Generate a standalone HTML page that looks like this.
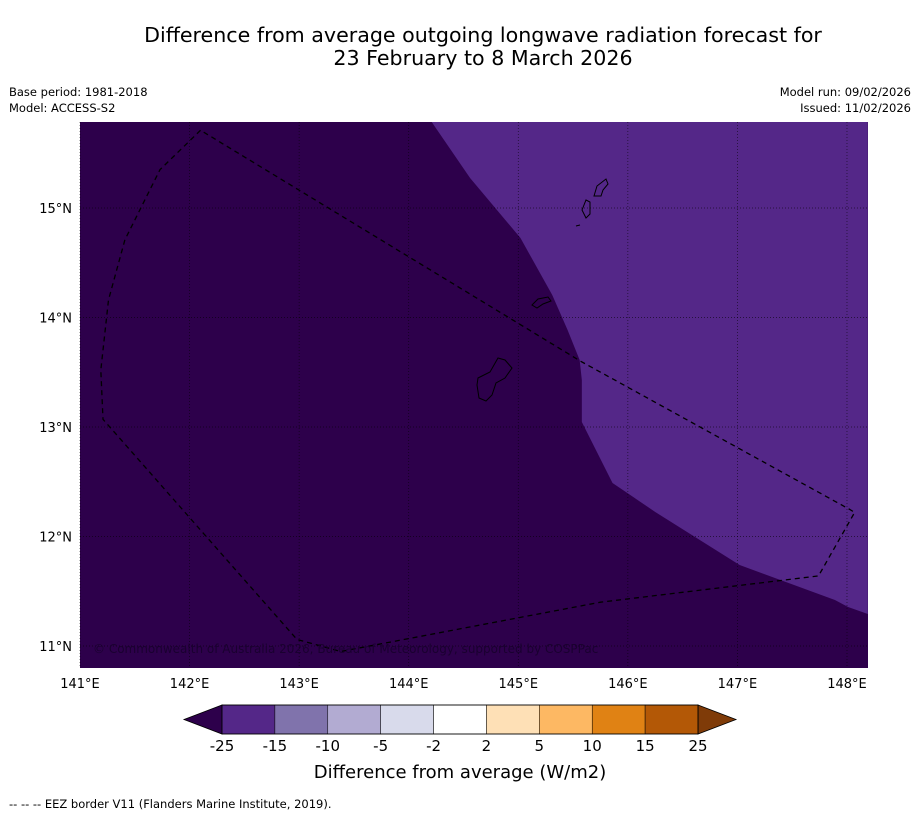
<!DOCTYPE html>
<html><head><meta charset="utf-8"><style>
body{margin:0;background:#fff;width:919px;height:816px;overflow:hidden;font-family:"Liberation Sans","DejaVu Sans",sans-serif}
</style></head><body>
<svg width="919" height="816" xmlns="http://www.w3.org/2000/svg" font-family="DejaVu Sans, Liberation Sans, sans-serif">
<text x="483" y="42" font-size="20.6" text-anchor="middle">Difference from average outgoing longwave radiation forecast for</text>
<text x="483" y="65" font-size="20.6" text-anchor="middle">23 February to 8 March 2026</text>
<text x="9" y="96" font-size="11.5">Base period: 1981-2018</text>
<text x="9" y="112" font-size="11.5">Model: ACCESS-S2</text>
<text x="911" y="96" font-size="11.5" text-anchor="end">Model run: 09/02/2026</text>
<text x="911" y="112" font-size="11.5" text-anchor="end">Issued: 11/02/2026</text>
<g id="map"></g>
<g id="axes"></g>
<g id="cbar"></g>
<text x="460" y="778" font-size="18" text-anchor="middle">Difference from average (W/m2)</text>
<text x="9" y="808" font-size="11.5">--  --  -- EEZ border V11 (Flanders Marine Institute, 2019).</text>
</svg>
<script>
const lonTicks=[141,142,143,144,145,146,147,148];
const latTicks=[11,12,13,14,15];
const regionLon=[144.21,144.56,145.02,145.31,145.45,145.56,145.58,145.58,145.86,146.25,147.02,147.89,148.01,148.19,148.19];
const regionLat=[15.785,15.274,14.726,14.205,13.886,13.612,13.429,13.046,12.489,12.224,11.74,11.42,11.356,11.292,15.785];
const eezLon=[142.10,141.73,141.41,141.26,141.19,141.21,142.98,143.38,145.75,147.74,148.07,148.02,145.57,142.10];
const eezLat=[15.71,15.35,14.71,14.16,13.52,13.07,11.06,10.95,11.40,11.64,12.22,12.25,13.60,15.71];
const cbLabels=["-25","-15","-10","-5","-2","2","5","10","15","25"];
const cbColors=["#542788","#8073ac","#b2abd2","#d8daeb","#ffffff","#fee0b6","#fdb863","#e08214","#b35806"];
const X0=80,X1=868,Y0=122,Y1=668;
const xs=l=>80+(l-141)*109.57, ys=l=>208-(l-15)*109.5;
const NS="http://www.w3.org/2000/svg";
function mk(t,a,p){const e=document.createElementNS(NS,t);for(const k in a)e.setAttribute(k,a[k]);p.appendChild(e);return e;}
const map=document.getElementById('map'),ax=document.getElementById('axes'),cb=document.getElementById('cbar');
let r=mk('rect',{x:X0,y:Y0,width:X1-X0,height:Y1-Y0,fill:'#2d004b'},map);


let pts=regionLon.map((l,i)=>xs(l)+','+ys(regionLat[i])).join(' ');
let pg=mk('polygon',{points:pts,fill:'#542788'},map);


lonTicks.forEach(l=>{const x=xs(l);
 let g=mk('line',{x1:x,x2:x,y1:Y0,y2:Y1,stroke:'#000','stroke-width':0.7,'stroke-dasharray':'1,2',opacity:0.7},map);
 
 
 let t=mk('text',{x:x,y:688,'font-size':13,'text-anchor':'middle'},ax);t.textContent=l+'°E';
 
 });
latTicks.forEach(l=>{const y=ys(l);
 let g=mk('line',{x1:X0,x2:X1,y1:y,y2:y,stroke:'#000','stroke-width':0.7,'stroke-dasharray':'1,2',opacity:0.7},map);
 
 
 let t=mk('text',{x:72,y:y+5,'font-size':13,'text-anchor':'end'},ax);t.textContent=l+'°N';
 
 });
const islands=["M478,378 L490,372 L498,358 L505,360 L512,368 L505,378 L496,383 L492,395 L486,401 L479,398 L477,385 Z",
"M532,305 L538,299 L548,297 L551,301 L543,304 L537,308 Z",
"M594,196 L597,186 L606,179 L608,184 L603,190 L601,196 Z",
"M582,210 L586,200 L590,202 L590,214 L586,218 Z",
"M576,226 L580,225"];
islands.forEach(d=>{let p=mk('path',{d:d,fill:'none',stroke:'#000','stroke-width':1},map);
 
 });
let ep=mk('polyline',{points:eezLon.map((l,i)=>xs(l)+','+ys(eezLat[i])).join(' '),fill:'none',stroke:'#000','stroke-width':1.3,'stroke-dasharray':'5,4'},map);


let ct=mk('text',{x:93,y:653,'font-size':12,fill:'#1a0030'},map);ct.textContent='© Commonwealth of Australia 2026, Bureau of Meteorology, supported by COSPPac';


const cx0=222,cx1=698,cy0=705,cy1=734,sw=(cx1-cx0)/cbColors.length;
let lt=mk('polygon',{points:`${cx0},${cy0} 184,${(cy0+cy1)/2} ${cx0},${cy1}`,fill:'#2d004b',stroke:'#000','stroke-width':0.8},cb);


let rt=mk('polygon',{points:`${cx1},${cy0} 736,${(cy0+cy1)/2} ${cx1},${cy1}`,fill:'#7f3b08',stroke:'#000','stroke-width':0.8},cb);


cbColors.forEach((c,i)=>{let s=mk('rect',{x:cx0+i*sw,y:cy0,width:sw,height:cy1-cy0,fill:c,stroke:'#000','stroke-width':0.5},cb);
 
 });
mk('rect',{x:cx0,y:cy0,width:cx1-cx0,height:cy1-cy0,fill:'none',stroke:'#000','stroke-width':0.8},cb);
cbLabels.forEach((l,i)=>{let t=mk('text',{x:cx0+i*sw,y:751,'font-size':15,'text-anchor':'middle'},cb);t.textContent=l;
 
 });
</script>
</body></html>
